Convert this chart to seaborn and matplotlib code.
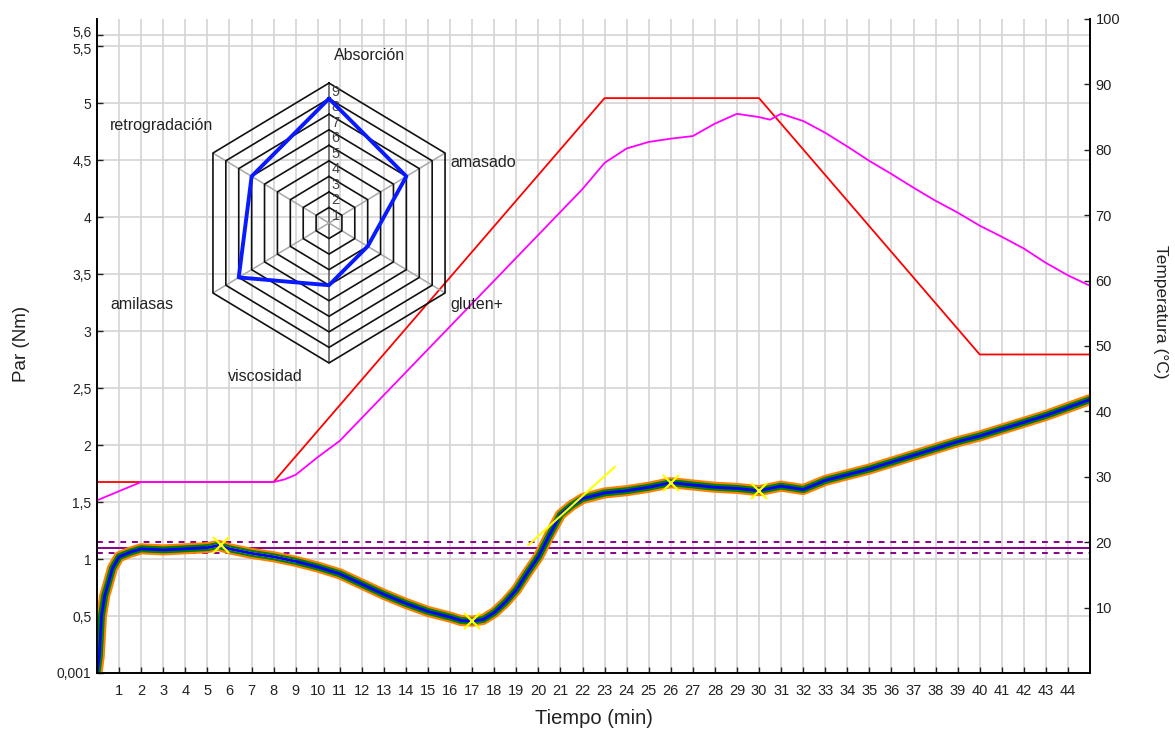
import numpy as np
import pandas as pd
import matplotlib
matplotlib.use("Agg")
import matplotlib.pyplot as plt
import matplotlib.transforms as mtransforms
import seaborn as sns

# ---------------- data ----------------
time_min = [0, 0.1, 0.2, 0.35, 0.5, 0.7, 1.0, 1.5, 2, 3, 4, 5, 5.5, 6, 7, 8, 9, 10, 11, 12,
            13, 14, 15, 16, 16.5, 17, 17.5, 18, 18.5, 19, 19.5, 20, 20.5, 21, 21.5, 22, 23,
            24, 25, 26, 27, 28, 29, 30, 31, 32, 33, 34, 35, 36, 37, 38, 39, 40, 41, 42, 43,
            44, 45]
torque_nm = [0.0, 0.15, 0.5, 0.68, 0.78, 0.92, 1.02, 1.06, 1.09, 1.08, 1.09, 1.1, 1.12, 1.09,
             1.05, 1.02, 0.98, 0.93, 0.87, 0.78, 0.69, 0.61, 0.54, 0.49, 0.46, 0.455, 0.47,
             0.53, 0.62, 0.73, 0.88, 1.02, 1.21, 1.39, 1.47, 1.53, 1.58, 1.6, 1.63, 1.67,
             1.65, 1.63, 1.62, 1.6, 1.64, 1.61, 1.69, 1.74, 1.79, 1.85, 1.91, 1.97, 2.03,
             2.08, 2.14, 2.2, 2.26, 2.33, 2.4]

set_time = [0, 8, 23, 30, 40, 45]
set_temp = [29.2, 29.2, 87.9, 87.9, 48.7, 48.7]

dough_time = [0, 1, 2, 8, 8.5, 9, 10, 11, 12, 13, 14, 15, 16, 17, 18, 19, 20, 21, 22, 23, 24,
              25, 26, 27, 28, 29, 30, 30.5, 31, 32, 33, 34, 35, 36, 37, 38, 39, 40, 41, 42,
              43, 44, 45]
dough_temp = [26.4, 27.8, 29.2, 29.2, 29.6, 30.3, 33.0, 35.5, 39.0, 42.5, 46.0, 49.5, 53.0,
              56.5, 60.0, 63.5, 67.0, 70.5, 74.0, 78.0, 80.2, 81.2, 81.7, 82.1, 84.0, 85.5,
              85.0, 84.6, 85.5, 84.4, 82.6, 80.5, 78.3, 76.3, 74.2, 72.2, 70.4, 68.4, 66.7,
              64.9, 62.7, 60.8, 59.2]

target_torque = 1.1
target_tol = 0.05

tangent_time = [19.53, 23.47]
tangent_nm = [1.12, 1.81]
marker_time = [5.6, 17.0, 26.0, 30.0]
marker_nm = [1.12, 0.46, 1.67, 1.60]

radar_labels = ["Absorción", "amasado", "gluten+", "viscosidad", "amilasas", "retrogradación"]
radar_values = [8, 6, 3, 4, 7, 6]
radar_rings = [1, 2, 3, 4, 5, 6, 7, 8, 9]

x_ticks = list(range(1, 45))
left_ticks = [0.001, 0.5, 1, 1.5, 2, 2.5, 3, 3.5, 4, 4.5, 5, 5.5, 5.6]
left_tick_labels = ["0,001", "0,5", "1", "1,5", "2", "2,5", "3", "3,5", "4", "4,5", "5",
                    "5,5", "5,6"]
right_ticks = [10, 20, 30, 40, 50, 60, 70, 80, 90, 100]

# ---------------- style ----------------
sns.set_theme(style="white")
plt.rcParams["font.family"] = ["Liberation Sans", "DejaVu Sans"]

fig = plt.figure(figsize=(11.75, 7.3), dpi=100)
ax = fig.add_axes([0.0826, 0.0781, 0.8451, 0.8959])
ax2 = ax.twinx()

grid_c = "#d4d4d4"
ax.set_xlim(0, 45)
ax.set_ylim(0, 5.74)
ax2.set_ylim(0, 100)

ax.set_xticks(x_ticks)
ax.set_xticklabels([str(v) for v in x_ticks], fontsize=10.5)
ax.set_yticks(left_ticks)
ax.set_yticklabels(left_tick_labels, fontsize=10)
ax2.set_yticks(right_ticks)
ax2.set_yticklabels([str(v) for v in right_ticks], fontsize=10.5)
ax.grid(True, color=grid_c, linewidth=1.2)
ax2.grid(False)
ax.set_axisbelow(True)

for a in (ax, ax2):
    a.spines["top"].set_visible(False)
    for s in ("left", "right", "bottom"):
        a.spines[s].set_color("black")
        a.spines[s].set_linewidth(1.2)
    a.tick_params(direction="in", length=4, width=1, colors="#222222", pad=4)
ax.tick_params(axis="x", pad=8)
ax.tick_params(left=True, bottom=True)
ax2.tick_params(right=True)

# nudge the two crowded top labels apart
ylabels = ax.get_yticklabels()
ylabels[-1].set_transform(ylabels[-1].get_transform() +
                          mtransforms.ScaledTranslation(0, 3 / 100, fig.dpi_scale_trans))
ylabels[-2].set_transform(ylabels[-2].get_transform() +
                          mtransforms.ScaledTranslation(0, -2 / 100, fig.dpi_scale_trans))

ax.set_xlabel("Tiempo (min)", fontsize=14.5, color="#222222", labelpad=8)
ax.set_ylabel("Par (Nm)", fontsize=13.5, color="#222222")
ax.yaxis.set_label_coords(-0.068, 0.503)
ax2.set_ylabel("Temperatura (°C)", fontsize=12.5, color="#222222", rotation=270, va="center")
ax2.yaxis.set_label_coords(1.0705, 0.552)

# ---------------- torque curve ----------------
df = pd.DataFrame({"t": time_min, "nm": torque_nm})
sns.lineplot(data=df, x="t", y="nm", ax=ax, color="#ff8000", linewidth=8, estimator=None, zorder=3)
sns.lineplot(data=df, x="t", y="nm", ax=ax, color="#008000", linewidth=5, estimator=None, zorder=4)
sub = df[(df.t >= 5.0) & (df.t <= 9)]
sns.lineplot(data=sub, x="t", y="nm", ax=ax, color="#ffff00", linewidth=2.0, estimator=None, zorder=5)
sns.lineplot(data=df, x="t", y="nm", ax=ax, color="#0000ff", linewidth=2.0, estimator=None, zorder=6)
sns.lineplot(x=tangent_time, y=tangent_nm, ax=ax, color="#ffff00", linewidth=1.5, estimator=None, zorder=7)
ax.plot(marker_time, marker_nm, linestyle="none", marker="x", markersize=11, mew=1.6,
        color="#ffff00", zorder=7)

# consistency target lines
ax.axhline(target_torque, color="#8b008b", linewidth=1.4, zorder=2)
ax.axhline(target_torque + target_tol, color="#8b008b", linewidth=1.4, linestyle=(0, (3, 3)), zorder=2)
ax.axhline(target_torque - target_tol, color="#8b008b", linewidth=1.4, linestyle=(0, (3, 3)), zorder=2)

# ---------------- temperatures ----------------
sns.lineplot(x=set_time, y=set_temp, ax=ax2, color="#ff0000", linewidth=1.3, estimator=None)
sns.lineplot(x=dough_time, y=dough_temp, ax=ax2, color="#ff00ff", linewidth=1.3, estimator=None)
ax.set_xlim(0, 45)
ax2.set_xlim(0, 45)

# ---------------- radar inset ----------------
rax = fig.add_axes([0.1268, 0.4274, 0.3064, 0.5342], facecolor="none")
rax.set_xlim(-12.09, 12.09)
rax.set_ylim(-12.54, 12.54)
rax.axis("off")

n = len(radar_labels)
ang = np.deg2rad(np.arange(n) * 360.0 / n)
ang_c = np.append(ang, ang[0])
rmax = max(radar_rings)
for i, a in enumerate(ang):
    col = "#555555" if i in (0, 3) else "#a8a8a8"
    rax.plot([0, rmax * np.sin(a)], [0, rmax * np.cos(a)], color=col, linewidth=1.1, zorder=1)
for r in radar_rings:
    rax.plot(r * np.sin(ang_c), r * np.cos(ang_c), color="#111111", linewidth=1.2, zorder=2)
    rax.text(0.45, r - 0.55, str(r), fontsize=10.5, color="#444444", ha="center", va="center", zorder=3)
vals = np.array(radar_values + radar_values[:1], dtype=float)
sns.lineplot(x=vals * np.sin(ang_c), y=vals * np.cos(ang_c), ax=rax, sort=False,
             estimator=None, color="#0a1aff", linewidth=2.8, zorder=4)

label_pos = [(2.75, 10.8, "center"), (8.13, 3.86, "left"), (8.13, -5.21, "left"),
             (-6.78, -9.9, "left"), (-14.71, -5.27, "left"), (-14.71, 6.24, "left")]
for lab, (lx, ly, ha) in zip(radar_labels, label_pos):
    rax.text(lx, ly, lab, fontsize=11.5, color="#222222", ha=ha, va="center", clip_on=False)

fig.savefig("out.png", dpi=100)
